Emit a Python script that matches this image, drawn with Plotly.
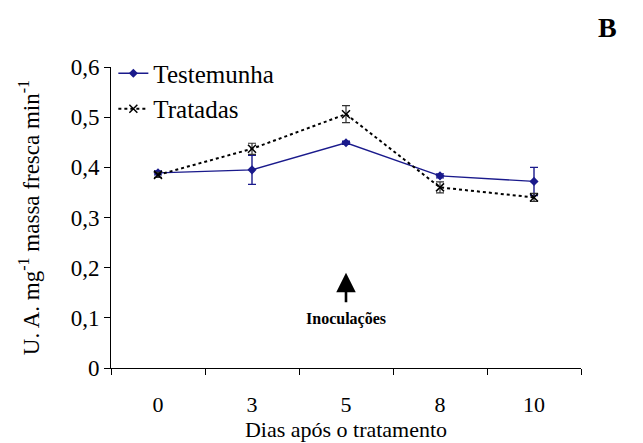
import plotly.graph_objects as go

# Days after treatment (category labels)
dias = ["0", "3", "5", "8", "10"]

# Enzyme activity (U.A. mg-1 fresh mass min-1)
testemunha = [0.389, 0.395, 0.449, 0.383, 0.372]
testemunha_err = [0.004, 0.029, 0.003, 0.004, 0.028]

tratadas = [0.385, 0.437, 0.506, 0.360, 0.340]
tratadas_err = [0.005, 0.011, 0.017, 0.011, 0.008]

y_ticks = [0, 0.1, 0.2, 0.3, 0.4, 0.5, 0.6]
y_tick_text = ["0", "0,1", "0,2", "0,3", "0,4", "0,5", "0,6"]

# Inoculation happened on day 5
inoc_day = dias.index("5")

SERIF = "Liberation Serif, Times New Roman, serif"

fig = go.Figure()

fig.add_trace(go.Scatter(
    x=dias, y=testemunha, name="Testemunha", mode="lines+markers",
    line=dict(color="#1a1a8c", width=1.4),
    marker=dict(symbol="diamond", size=7, color="#1a1a8c"),
    error_y=dict(type="data", array=testemunha_err, color="#1a1a8c",
                 thickness=1.4, width=4),
))

fig.add_trace(go.Scatter(
    x=dias, y=tratadas, name="Tratadas", mode="lines+markers",
    line=dict(color="black", width=2, dash="dot"),
    marker=dict(symbol="x-thin", size=8, color="black",
                line=dict(color="black", width=1.5)),
    error_y=dict(type="data", array=tratadas_err, color="#333333",
                 thickness=1.2, width=4),
))

# Inoculation marker below the day-5 point
fig.add_annotation(
    x=inoc_day, y=0.19, ax=0, ay=31, text="", showarrow=True,
    arrowhead=2, arrowsize=1.5, arrowwidth=2.6, arrowcolor="black",
    xref="x", yref="y",
)
fig.add_annotation(
    x=inoc_day, y=0.098, text="<b>Inoculações</b>", showarrow=False,
    font=dict(family=SERIF, size=16, color="black"),
    xref="x", yref="y",
)

# Panel letter
fig.add_annotation(
    x=1.08, y=1.19, xref="paper", yref="paper", text="<b>B</b>",
    showarrow=False, font=dict(family=SERIF, size=28, color="black"),
)

fig.update_layout(
    width=643, height=443,
    margin=dict(l=111, r=62, t=67, b=75),
    paper_bgcolor="white", plot_bgcolor="white",
    font=dict(family=SERIF, size=22, color="black"),
    showlegend=True,
    legend=dict(
        x=0.005, y=1.055, xanchor="left", yanchor="top",
        bgcolor="rgba(0,0,0,0)", font=dict(family=SERIF, size=25),
        itemwidth=30, tracegroupgap=0,
    ),
    xaxis=dict(
        type="category", range=[-0.5, 4.5], automargin=False,
        showline=True, linecolor="black", linewidth=1,
        ticks="outside", ticklen=6, tickcolor="black",
        tickson="boundaries", showgrid=False, zeroline=False,
        ticklabelstandoff=17,
        tickfont=dict(family=SERIF, size=22),
        title=dict(text="Dias após o tratamento", standoff=3,
                   font=dict(family=SERIF, size=22)),
    ),
    yaxis=dict(
        range=[0, 0.6], tickvals=y_ticks, ticktext=y_tick_text,
        automargin=False,
        showline=True, linecolor="black", linewidth=1,
        ticks="outside", ticklen=6, tickcolor="black",
        showgrid=False, zeroline=False,
        tickfont=dict(family=SERIF, size=23),
        title=dict(text="U. A. mg<sup>-1</sup> massa fresca min<sup>-1</sup>",
                   standoff=24, font=dict(family=SERIF, size=23)),
    ),
)

fig.write_html("out.html")
